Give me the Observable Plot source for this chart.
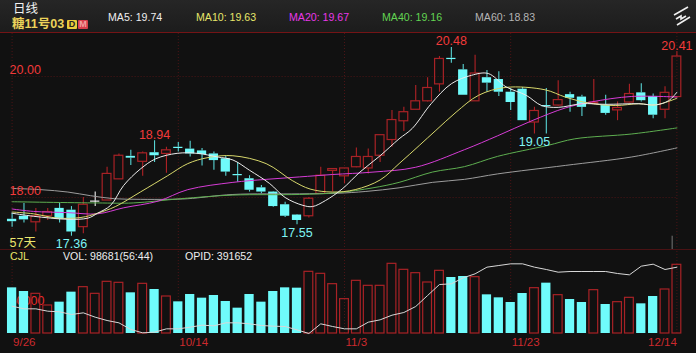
<!DOCTYPE html>
<html><head><meta charset="utf-8">
<script src="https://cdn.jsdelivr.net/npm/d3@7"></script>
<script src="https://cdn.jsdelivr.net/npm/@observablehq/plot@0.6"></script>
<style>
html,body{margin:0;padding:0;background:#111;}
#c{position:relative;width:696px;height:353px;overflow:hidden;background:#111;font-family:"Liberation Sans","Noto Sans CJK SC",sans-serif;}
#hd{position:absolute;left:0;top:0;width:696px;height:32px;background:linear-gradient(#262626,#1c1c1c);border-bottom:1px solid #741416;box-sizing:content-box;}
#sep{position:absolute;left:0;top:249px;width:696px;height:1px;background:#4a1214;}
.t{position:absolute;white-space:nowrap;line-height:1;}
.m{font-size:10.6px;top:12px;}
.b{position:absolute;top:20px;height:9px;width:10px;font-size:9px;font-weight:bold;line-height:9px;text-align:center;border-radius:1px;}
.p{position:absolute;left:0;}
svg{display:block;}
</style></head><body>
<div id="c">
<div id="hd"></div>
<div id="sep"></div>
<div class="t" style="left:13px;top:3px;font-size:12.5px;color:#f2f2f2;">日线</div>
<div class="t" style="left:12px;top:18px;font-size:12.5px;font-weight:bold;color:#ecd35a;">糖11号03</div>
<div class="b" style="left:67px;background:#e8cc3c;color:#222;">D</div>
<div class="b" style="left:78px;background:#d8404c;color:#f0a0a0;">M</div>
<div class="t m" style="left:108px;color:#eee;">MA5: 19.74</div>
<div class="t m" style="left:196px;color:#e6e66a;">MA10: 19.63</div>
<div class="t m" style="left:289px;color:#e838e8;">MA20: 19.67</div>
<div class="t m" style="left:382px;color:#62d452;">MA40: 19.16</div>
<div class="t m" style="left:475px;color:#b4b4b4;">MA60: 18.83</div>
<svg style="position:absolute;left:673px;top:6px" width="18" height="20" viewBox="0 0 18 20" fill="none" stroke="#f0f0f0" stroke-width="1.6"><path d="M1 9 L15 1"/><path d="M3 13 L8 10 L8 13 L13 10"/><path d="M4 19 L17 11"/></svg>
<div id="price" class="p" style="top:33px"></div>
<div id="vol" class="p" style="top:249px"></div>
<div id="cjl" class="p" style="top:249px"></div>
<div class="t m" style="left:10px;top:251px;color:#e6e66a;">CJL</div>
<div class="t m" style="left:63px;top:251px;color:#eee;">VOL: 98681(56:44)</div>
<div class="t m" style="left:185px;top:251px;color:#eee;">OPID: 391652</div>
</div>
<script>
const highs=[17.74,17.90,17.82,17.82,17.90,17.85,18.00,18.09,18.50,18.72,18.78,18.75,18.94,18.83,18.91,18.93,18.81,18.75,18.68,18.58,18.36,18.20,18.10,17.92,17.72,18.00,18.50,18.47,18.48,18.82,18.80,19.03,19.44,19.49,19.85,19.98,20.33,20.48,20.20,20.35,20.10,20.08,19.80,19.82,19.49,19.80,19.93,19.74,19.69,19.95,19.69,19.58,19.87,19.88,19.71,19.83,20.41];
const lows=[17.51,17.58,17.43,17.62,17.58,17.36,17.40,17.85,17.95,18.30,18.53,18.35,18.58,18.40,18.75,18.67,18.52,18.45,18.35,18.25,18.09,18.06,17.84,17.67,17.55,17.66,18.05,18.09,18.23,18.49,18.39,18.58,18.83,19.09,19.45,19.58,19.74,20.22,19.69,19.59,19.74,19.67,19.44,19.27,19.05,19.05,19.51,19.41,19.34,19.55,19.36,19.27,19.56,19.58,19.30,19.30,19.66];
const opens=[17.64,17.69,17.59,17.69,17.82,17.79,17.51,17.94,17.95,18.30,18.68,18.59,18.74,18.72,18.83,18.80,18.77,18.72,18.64,18.38,18.31,18.16,18.09,17.88,17.71,17.69,18.06,18.44,18.35,18.50,18.48,18.69,18.95,19.26,19.45,19.59,19.87,20.30,20.11,19.59,19.98,19.95,19.74,19.79,19.24,19.52,19.52,19.70,19.66,19.55,19.52,19.44,19.57,19.73,19.67,19.45,19.66];
const closes=[17.60,17.63,17.69,17.76,17.64,17.43,17.88,17.94,18.39,18.69,18.65,18.73,18.69,18.78,18.81,18.72,18.71,18.61,18.42,18.36,18.12,18.09,17.85,17.69,17.62,17.98,18.36,18.47,18.48,18.67,18.67,19.03,19.28,19.41,19.59,19.81,20.29,20.28,19.69,20.05,19.89,19.74,19.57,19.27,19.43,19.50,19.61,19.64,19.49,19.57,19.39,19.48,19.71,19.60,19.36,19.73,20.33];
const volumes=[65600,60350,57000,40240,45030,59400,66580,57000,74250,72810,58440,71370,63230,53170,45500,56040,50770,54600,45980,36400,56040,45030,60350,65620,65140,88620,85740,70890,49340,75680,68500,68500,100110,91490,86700,73290,90050,80470,81900,80950,55560,51250,44550,57480,65140,72330,55090,48860,44550,62270,41670,45030,51250,42630,53170,63230,98681];
const opid=[372150,370820,370820,369650,369320,367985,368820,366650,364985,363820,360485,358820,359150,360820,360820,361650,362650,362320,363820,363820,363320,362485,362150,361985,360320,358485,363320,361985,360820,360820,364150,365320,367650,368985,371985,377485,382985,383320,386320,388320,391652,392485,393320,393320,391652,390485,389150,389485,389485,389485,389485,388485,387820,392150,393150,390485,391652];

const ma5x=[0,1.8,4.7,6.4,7.2,8.3,9.4,10.8,12.1,13.9,15.6,17.3,18.6,20,21.7,23,24.5,25.3,26.4,27.8,29.3,31,32.6,33.7,35.3,37,38.7,40.1,41.6,43.3,44.6,46,48,50,52.8,54.2,55.3,56];
const ma5=[17.74,17.69,17.64,17.66,17.74,17.87,18.20,18.47,18.64,18.73,18.73,18.67,18.62,18.45,18.23,18.00,17.87,17.85,17.95,18.14,18.42,18.69,18.97,19.14,19.55,19.88,20.02,20.05,19.83,19.69,19.52,19.49,19.55,19.54,19.55,19.53,19.60,19.74];
const ma10x=[0,1.8,3.8,5.8,7.2,8.7,10.8,13.1,14.8,16.5,18.6,21.4,23.6,25.1,27,28.9,31,32.6,34.3,35.7,37.4,39.3,41.6,44.9,46.6,48.6,50.8,52.8,54.2,56];
const ma10=[17.76,17.73,17.66,17.67,17.74,17.85,18.09,18.36,18.56,18.66,18.69,18.56,18.28,18.14,18.09,18.13,18.29,18.56,18.86,19.11,19.41,19.69,19.82,19.78,19.66,19.56,19.52,19.55,19.53,19.64];
const ma20x=[0,1.8,4.7,7.2,9.4,12.3,14.8,18.6,21.4,24.2,27,30.4,34,38.1,40.9,43.8,46.6,48.8,52.2,56];
const ma20=[17.81,17.77,17.75,17.73,17.83,17.94,18.13,18.25,18.30,18.34,18.38,18.42,18.50,18.79,19.02,19.27,19.48,19.58,19.67,19.66];
const ma40x=[0,7.2,10.2,14.2,18.6,24.2,27.4,30.4,32.6,35.4,38.1,40.9,45.1,47.4,52.2,56];
const ma40=[17.93,17.91,17.91,17.98,18.04,18.05,18.08,18.16,18.25,18.42,18.51,18.68,18.86,18.97,19.05,19.15];
const ma60x=[0,2.4,4.7,6.6,8.6,10.8,13.1,14.8,18.6,24.2,27.4,29.8,32.6,35.4,38.1,40.9,46.6,52.2,56];
const ma60=[18.15,18.13,18.09,18.03,17.98,17.97,17.97,17.98,18.05,18.06,18.07,18.10,18.16,18.25,18.30,18.39,18.53,18.67,18.82];

const dateIdx=[0,14,28,42,56];
const dateLabels=["9/26","10/14","11/3","11/23","12/14"];
const priceGrid=[18,20];
const highLabelIdx=[12,37,56];
const lowLabelIdx=[5,24,44];
const RED="#a82226",CY="#6ffbfb",GRID="#4c1416";
const font='"Liberation Sans","Noto Sans CJK SC",sans-serif';
const idx=d3.range(highs.length);
const isUp=i=>closes[i]>opens[i];
const isFlat=i=>closes[i]===opens[i];
const lineOf=(xs,ys,color)=>Plot.line(xs.map((x,i)=>[x,ys[i]]),{x:"0",y:"1",stroke:color,strokeWidth:1,curve:"catmull-rom"});
const X={domain:[0,56],range:[11.6,676.4]};
const base=o=>Plot.plot({width:696,margin:0,x:{...X,axis:null},style:{background:"transparent",fontFamily:font,overflow:"visible"},...o});

document.getElementById("price").append(base({
  height:216,
  y:{domain:[17.1405,20.7107],range:[216,0],axis:null},
  marks:[
    Plot.ruleY(priceGrid,{x1:0,x2:56,stroke:GRID,strokeDasharray:"1,2",strokeWidth:1}),
    Plot.ruleX(dateIdx,{stroke:GRID,strokeDasharray:"1,2",strokeWidth:1}),
    Plot.ruleX(idx,{x:i=>i,y1:i=>highs[i],y2:i=>Math.max(opens[i],closes[i]),stroke:i=>isFlat(i)?"#eee":isUp(i)?"#b02226":"#58d4d4",strokeWidth:1.1}),
    Plot.ruleX(idx,{x:i=>i,y1:i=>Math.min(opens[i],closes[i]),y2:i=>lows[i],stroke:i=>isFlat(i)?"#eee":isUp(i)?"#b02226":"#58d4d4",strokeWidth:1.1}),
    Plot.rect(idx.filter(isUp),{x1:i=>i-.37,x2:i=>i+.37,y1:i=>opens[i],y2:i=>closes[i],fill:"none",stroke:RED,strokeWidth:1.2}),
    Plot.rect(idx.filter(i=>closes[i]<opens[i]),{x1:i=>i-.39,x2:i=>i+.39,y1:i=>opens[i],y2:i=>closes[i],fill:CY}),
    Plot.ruleY(idx.filter(isFlat),{y:i=>closes[i],x1:i=>i-.39,x2:i=>i+.39,stroke:"#eee",strokeWidth:1.2}),
    lineOf(ma60x,ma60,"#9c9c9c"),
    lineOf(ma40x,ma40,"#5eae50"),
    lineOf(ma20x,ma20,"#d63cd6"),
    lineOf(ma10x,ma10,"#d8d86c"),
    lineOf(ma5x,ma5,"#ececec"),
    Plot.ruleX([55.6],{y1:17.36,y2:17.14,stroke:"#777",strokeWidth:1}),
    Plot.text(priceGrid,{x:0,y:d=>d,dx:-2.5,dy:-6,text:d=>d.toFixed(2),textAnchor:"start",fill:"#f23a3a",fontSize:12.5}),
    Plot.text(highLabelIdx,{x:i=>i,y:i=>highs[i],dy:-6,text:i=>highs[i].toFixed(2),fill:"#f23a3a",fontSize:12.5}),
    Plot.text(lowLabelIdx,{x:i=>i,y:i=>lows[i],dy:8,text:i=>lows[i].toFixed(2),fill:"#7ff5f5",fontSize:12.5}),
    Plot.text(["57天"],{x:0,y:17.25,dx:-2.5,text:d=>d,textAnchor:"start",fill:"#ece66e",fontSize:12.5})
  ]
}));

const volTick=[50000];
const dateText=i=>dateLabels[dateIdx.indexOf(i)];
document.getElementById("vol").append(base({
  height:104,
  y:{domain:[0,120700],range:[84,0],axis:null},
  marks:[
    Plot.ruleX(dateIdx,{y1:0,y2:120700,stroke:GRID,strokeDasharray:"1,2",strokeWidth:1}),
    Plot.text(volTick,{x:0,y:d=>d,dx:-2.5,dy:2,text:d=>String(d),textAnchor:"start",fill:"#e82a2a",fontSize:12.5}),
    Plot.rect(idx.filter(i=>closes[i]>=opens[i]),{x1:i=>i-.37,x2:i=>i+.37,y1:0,y2:i=>volumes[i],fill:"none",stroke:RED,strokeWidth:1.2}),
    Plot.rect(idx.filter(i=>closes[i]<opens[i]),{x1:i=>i-.39,x2:i=>i+.39,y1:0,y2:i=>volumes[i],fill:CY}),
    Plot.text(dateIdx.slice(0,4),{x:i=>i,frameAnchor:"bottom",dy:-8,dx:1,text:dateText,textAnchor:"start",fill:"#cc2a2e",fontSize:11.5}),
    Plot.text(dateIdx.slice(4),{x:i=>i,frameAnchor:"bottom",dy:-8,text:dateText,textAnchor:"end",fill:"#cc2a2e",fontSize:11.5})
  ]
}));

document.getElementById("cjl").append(base({
  height:104,
  y:{domain:[348487,400487],range:[104,0],axis:null},
  marks:[Plot.line(idx,{x:i=>i,y:i=>opid[i],stroke:"#d8d8d8",strokeWidth:1})]
}));
</script>
</body></html>
